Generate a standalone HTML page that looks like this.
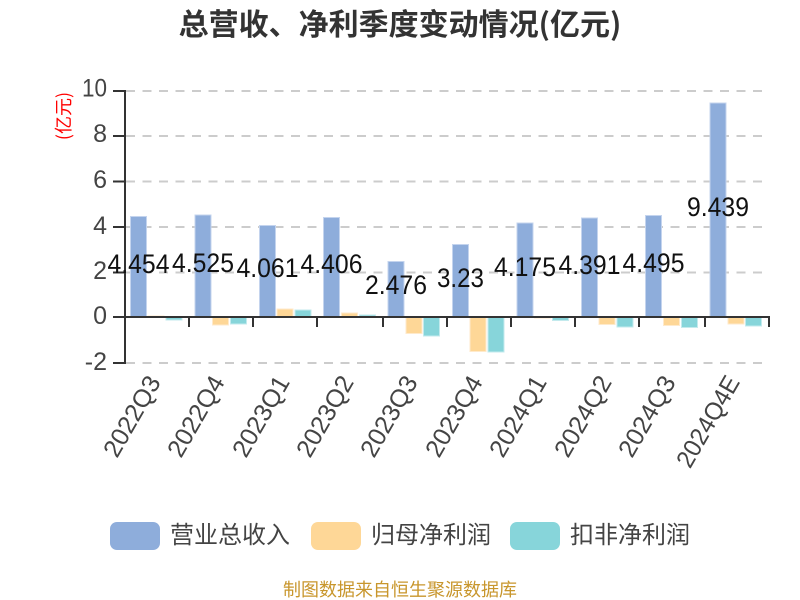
<!DOCTYPE html>
<html><head><meta charset="utf-8"><style>
html,body{margin:0;padding:0;background:#fff}
svg{display:block}
text{font-family:"Liberation Sans","Noto Sans CJK SC",sans-serif}
.cjk{font-family:"Noto Sans CJK SC","Liberation Sans",sans-serif}
.g{stroke:#ccc;stroke-width:2;stroke-dasharray:9 7.5;fill:none}
.a{stroke:#333;stroke-width:2;fill:none}
.b rect{fill:#8eaddb;stroke:#c4d4ee;stroke-width:1}
.o rect{fill:#fed797;stroke:#ffeacb;stroke-width:1}
.t rect{fill:#87d5da;stroke:#c3eaed;stroke-width:1}
.yl text{font-size:25px;fill:#444;text-anchor:end}
.xl text{font-size:25px;fill:#444;text-anchor:end}
.v text{font-size:27px;fill:#111;text-anchor:middle}
.lg text{font-size:24px;fill:#444}
</style></head><body>
<svg width="800" height="600" viewBox="0 0 800 600" xmlns="http://www.w3.org/2000/svg">
<text class="cjk" x="400" y="35" font-size="30" font-weight="700" fill="#333" text-anchor="middle">总营收、净利季度变动情况(亿元)</text>
<text class="cjk" transform="translate(70,116) rotate(-90)" font-size="18" fill="#f00" text-anchor="middle">(亿元)</text>
<g class="g">
<path d="M126 91H769"/><path d="M126 136H769"/><path d="M126 181.5H769"/><path d="M126 227H769"/><path d="M126 272.5H769"/><path d="M126 363H769"/>
</g>
<g class="b">
<rect x="130.5" y="216.5" width="16" height="101"/>
<rect x="195" y="215" width="16" height="102.5"/>
<rect x="259.5" y="225.5" width="16" height="92"/>
<rect x="323.5" y="217.5" width="16" height="100"/>
<rect x="388" y="261.5" width="16" height="56"/>
<rect x="452.5" y="244.5" width="16" height="73"/>
<rect x="517" y="223" width="16" height="94.5"/>
<rect x="581.5" y="218" width="16" height="99.5"/>
<rect x="645.5" y="215.5" width="16" height="102"/>
<rect x="710" y="103" width="16" height="214.5"/>
</g>
<g class="o">
<rect x="148" y="316" width="16" height="1"/>
<rect x="212.5" y="317" width="16" height="8"/>
<rect x="277" y="309" width="16" height="8"/>
<rect x="341.5" y="313" width="16" height="4"/>
<rect x="406" y="317" width="16" height="16.5"/>
<rect x="470" y="317" width="16" height="34.5"/>
<rect x="534.5" y="317" width="16" height="1"/>
<rect x="599" y="317" width="16" height="7.5"/>
<rect x="663.5" y="317" width="16" height="8.5"/>
<rect x="728" y="317" width="16" height="7"/>
</g>
<g class="t">
<rect x="166" y="317" width="16" height="3"/>
<rect x="230.5" y="317" width="16" height="7"/>
<rect x="295" y="310" width="16" height="7"/>
<rect x="359.5" y="315" width="16" height="2"/>
<rect x="423.5" y="317" width="16" height="19"/>
<rect x="488" y="317" width="16" height="35"/>
<rect x="552.5" y="317" width="16" height="3.5"/>
<rect x="617" y="317" width="16" height="10"/>
<rect x="681.5" y="317" width="16" height="10.5"/>
<rect x="745.5" y="317" width="16" height="9"/>
</g>
<g class="a">
<path d="M125 90V364"/>
<path d="M113 91H125M113 136H125M113 181.5H125M113 227H125M113 272.5H125M113 363H125"/>
<path d="M113 317H770"/>
<path d="M189 317V327M253 317V327M317 317V327M383 317V327M447 317V327M511 317V327M575 317V327M639 317V327M705 317V327M769 317V327"/>
</g>
<g class="yl">
<text x="107" y="96.5" textLength="25" lengthAdjust="spacingAndGlyphs">10</text><text x="107" y="142">8</text><text x="107" y="188">6</text><text x="107" y="234">4</text><text x="107" y="279">2</text><text x="107" y="324">0</text><text x="107" y="370">-2</text>
</g>
<g class="v">
<text x="138.5" y="273" textLength="62" lengthAdjust="spacingAndGlyphs">4.454</text>
<text x="203" y="272" textLength="62" lengthAdjust="spacingAndGlyphs">4.525</text>
<text x="267.5" y="277" textLength="62" lengthAdjust="spacingAndGlyphs">4.061</text>
<text x="331.5" y="273" textLength="62" lengthAdjust="spacingAndGlyphs">4.406</text>
<text x="396" y="294" textLength="62" lengthAdjust="spacingAndGlyphs">2.476</text>
<text x="460.5" y="287" textLength="47" lengthAdjust="spacingAndGlyphs">3.23</text>
<text x="525" y="276" textLength="62" lengthAdjust="spacingAndGlyphs">4.175</text>
<text x="589.5" y="274" textLength="62" lengthAdjust="spacingAndGlyphs">4.391</text>
<text x="653.5" y="272" textLength="62" lengthAdjust="spacingAndGlyphs">4.495</text>
<text x="718" y="216" textLength="62" lengthAdjust="spacingAndGlyphs">9.439</text>
</g>
<g class="xl">
<text transform="translate(161.5,382) rotate(-60)">2022Q3</text>
<text transform="translate(225.5,382) rotate(-60)">2022Q4</text>
<text transform="translate(290.5,382) rotate(-60)">2023Q1</text>
<text transform="translate(354.5,382) rotate(-60)">2023Q2</text>
<text transform="translate(418.5,382) rotate(-60)">2023Q3</text>
<text transform="translate(483.5,382) rotate(-60)">2023Q4</text>
<text transform="translate(547.5,382) rotate(-60)">2024Q1</text>
<text transform="translate(612.5,382) rotate(-60)">2024Q2</text>
<text transform="translate(676.5,382) rotate(-60)">2024Q3</text>
<text transform="translate(740.5,382) rotate(-60)" textLength="101" lengthAdjust="spacingAndGlyphs">2024Q4E</text>
</g>
<g class="lg">
<rect x="110" y="522" width="50" height="28" rx="7" fill="#8eaddb"/>
<text class="cjk" x="170" y="543">营业总收入</text>
<rect x="311" y="522" width="50" height="28" rx="7" fill="#fed797"/>
<text class="cjk" x="371" y="543">归母净利润</text>
<rect x="510" y="522" width="50" height="28" rx="7" fill="#87d5da"/>
<text class="cjk" x="570" y="543">扣非净利润</text>
</g>
<text class="cjk" x="400" y="596" font-size="18" fill="#c8962c" text-anchor="middle">制图数据来自恒生聚源数据库</text>
</svg>
</body></html>
